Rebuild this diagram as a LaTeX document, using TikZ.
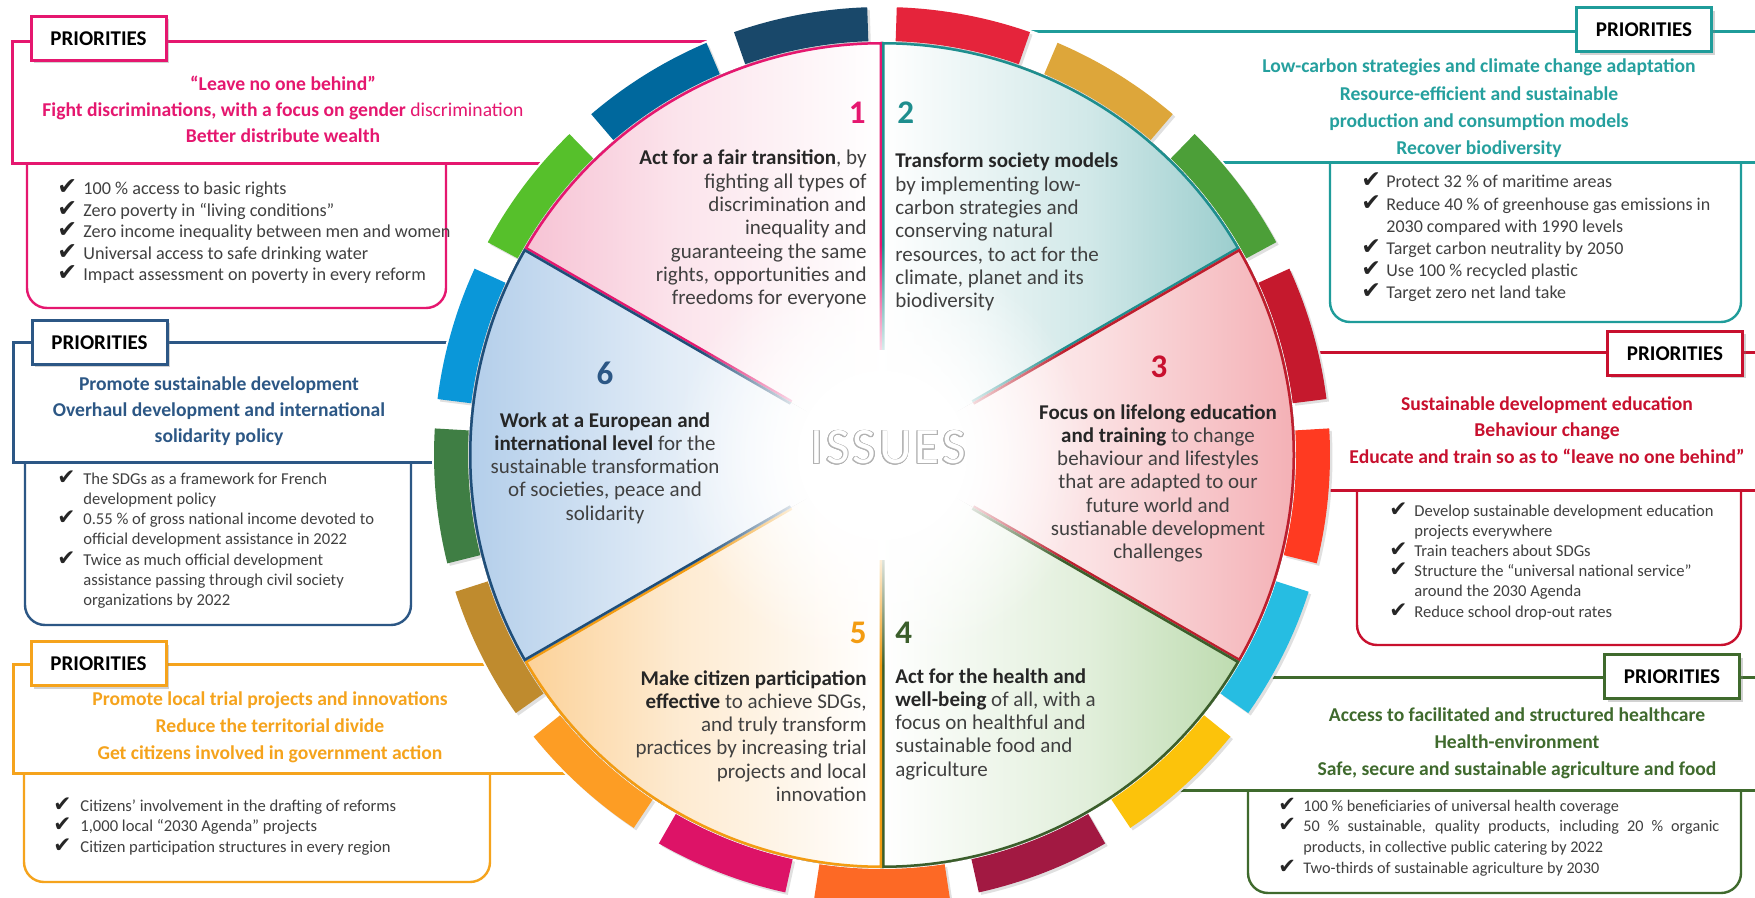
\documentclass[tikz,border=0pt]{standalone}
\usepackage{fontspec}
\setmainfont{Carlito}
\newfontfamily\dejavu{DejaVu Sans}
\usepackage[copies]{contour}
\usetikzlibrary{shadows,fadings}
\contourlength{0.45pt}
\definecolor{cPink}{HTML}{E5176F}
\definecolor{cTeal}{HTML}{1F9C9A}
\definecolor{cTealT}{HTML}{25A09E}
\definecolor{cRed}{HTML}{C8102E}
\definecolor{cGreen}{HTML}{3F6A2D}
\definecolor{cOrange}{HTML}{F5A31C}
\definecolor{cBlue}{HTML}{2C5785}
\definecolor{lBlue}{HTML}{1F4E79}
\definecolor{lTeal}{HTML}{1E8E8E}
\definecolor{lRed}{HTML}{BE1E2D}
\definecolor{lGreen}{HTML}{3B5E2B}
\definecolor{lOrange}{HTML}{F39C12}
\definecolor{rim1}{HTML}{F5B6CB}
\definecolor{rim2}{HTML}{86C3C3}
\definecolor{rim3}{HTML}{F4B0B5}
\definecolor{rim4}{HTML}{B0D49F}
\definecolor{rim5}{HTML}{FBC883}
\definecolor{rim6}{HTML}{B3CEEA}
\definecolor{txtgray}{HTML}{404040}
\definecolor{txtdark}{HTML}{262626}
\definecolor{sdg1}{HTML}{E5243B}
\definecolor{sdg2}{HTML}{DDA63A}
\definecolor{sdg3}{HTML}{4C9F38}
\definecolor{sdg4}{HTML}{C5192D}
\definecolor{sdg5}{HTML}{FF3A21}
\definecolor{sdg6}{HTML}{26BDE2}
\definecolor{sdg7}{HTML}{FCC30B}
\definecolor{sdg8}{HTML}{A21942}
\definecolor{sdg9}{HTML}{FD6925}
\definecolor{sdg10}{HTML}{DD1367}
\definecolor{sdg11}{HTML}{FD9D24}
\definecolor{sdg12}{HTML}{BF8B2E}
\definecolor{sdg13}{HTML}{3F7E44}
\definecolor{sdg14}{HTML}{0A97D9}
\definecolor{sdg15}{HTML}{56C02B}
\definecolor{sdg16}{HTML}{00689D}
\definecolor{sdg17}{HTML}{19486A}
\pgfdeclareradialshading{fadeshade}{\pgfpointorigin}{color(0bp)=(white); color(10bp)=(white); color(25bp)=(black); color(50bp)=(black)}
\pgfdeclarefading{centerfade}{\pgfuseshading{fadeshade}}
\newlength\ckw
\setlength\ckw{13pt}
\newcommand\ck{\makebox[\ckw][l]{\scalebox{1.3}{\dejavu\color{txtdark}✔}}}
\newcommand\B[1]{{\bfseries\color{txtdark}#1}}
\newcommand\secL[4]{\begin{scope}
 \clip (0,0) -- (#1:413) arc[start angle=#1,end angle=#2,radius=413] -- cycle;
 \fill[left color=#3, right color=white, middle color=#3!38!white] (-414,-414) rectangle (0,414);
 \draw[line width=2.5pt,#4] (#1:105) -- (#1:413) arc[start angle=#1,end angle=#2,radius=413] -- (#2:105);
 \end{scope}}
\newcommand\secR[4]{\begin{scope}
 \clip (0,0) -- (#1:413) arc[start angle=#1,end angle=#2,radius=413] -- cycle;
 \fill[left color=white, right color=#3, middle color=#3!38!white] (0,-414) rectangle (414,414);
 \draw[line width=2.5pt,#4] (#1:105) -- (#1:413) arc[start angle=#1,end angle=#2,radius=413] -- (#2:105);
 \end{scope}}
\tikzset{
 frame/.style={line width=1.5pt},
 listbox/.style={line width=1.2pt, rounded corners=10pt},
 tab/.style={draw, line width=1.5pt, fill=white, minimum width=67.5pt, minimum height=22pt, inner sep=0pt,
   font=\fontsize{10.5}{12}\selectfont\bfseries, text=black,
   drop shadow={shadow xshift=1.5pt, shadow yshift=-1.5pt, opacity=0.35}},
 hdr/.style={inner sep=0pt, anchor=base, font=\bfseries},
 lst/.style={inner sep=0pt, anchor=base west, text=txtgray},
 stxt/.style={inner sep=0pt, text=txtgray, font=\fontsize{10.5}{11.65}\selectfont},
 num/.style={inner sep=0pt, font=\fontsize{16.5}{16.5}\selectfont\bfseries}
}
\begin{document}
\begin{tikzpicture}[x=0.5pt,y=-0.5pt]
\useasboundingbox (0,0) rectangle (1755,898);
\fill[white] (0,0) rectangle (1755,898);
% priority frames
\draw[frame,cPink] (882,42) -- (12.5,42) -- (12.5,164) -- (882,164);
\draw[frame,cTeal] (882,32) -- (1770,32) (882,163) -- (1770,163);
\draw[frame,cRed] (1000,353) -- (1770,353) (1000,490) -- (1770,490);
\draw[frame,cGreen] (1000,677) -- (1770,677) (1000,790) -- (1770,790);
\draw[frame,cOrange] (882,664) -- (13,664) -- (13,773) -- (882,773);
\draw[frame,cBlue] (882,343) -- (13,343) -- (13,462) -- (882,462);
% list boxes
\draw[listbox,cPink] (27,164) -- (27,308) -- (446,308) -- (446,164);
\draw[listbox,cTeal] (1330,163) -- (1330,322) -- (1741,322) -- (1741,163);
\draw[listbox,cRed] (1357,490) -- (1357,645) -- (1741,645) -- (1741,490);
\draw[listbox,cGreen] (1248,790) -- (1248,893) -- (1741,893) -- (1741,790);
\draw[listbox,cOrange] (24,773) -- (24,882) -- (490,882) -- (490,773);
\draw[listbox,cBlue] (25,462) -- (25,625) -- (411,625) -- (411,462);
% wheel
\begin{scope}[shift={(882,455)}]
\fill[white] (0,0) circle (450);
\foreach \k in {1,...,17}{
 \pgfmathsetmacro\ac{21.176*(\k-1)-79.41}
 \pgfmathsetmacro\aa{\ac-8.7}
 \pgfmathsetmacro\ab{\ac+8.7}
 \fill[black, opacity=0.12, shift={(2.5,2.5)}] (\aa:414) arc[start angle=\aa,end angle=\ab,radius=414] -- (\ab:448) arc[start angle=\ab,end angle=\aa,radius=448] -- cycle;
 \fill[sdg\k] (\aa:414) arc[start angle=\aa,end angle=\ab,radius=414] -- (\ab:448) arc[start angle=\ab,end angle=\aa,radius=448] -- cycle;
}
\secL{-90}{-150}{rim1}{cPink}
\secR{-30}{-90}{rim2}{lTeal}
\secR{30}{-30}{rim3}{lRed}
\secR{90}{30}{rim4}{lGreen}
\secL{150}{90}{rim5}{lOrange}
\secL{-150}{-210}{rim6}{lBlue}
\fill[white, path fading=centerfade] (0,0) circle (210);
\end{scope}
% issues label
\node[inner sep=0pt, font=\fontsize{25.5}{26}\selectfont\addfontfeature{LetterSpace=6}] (issues) at (888,448) {\color{white}\contour{black!30}{ISSUES}};
% numbers
\node[num, anchor=base east, text=cPink] (n1) at (866,124) {1};
\node[num, anchor=base west, text=lTeal] (n2) at (897,124) {2};
\node[num, anchor=base, text=cRed] (n3) at (1159,378) {3};
\node[num, anchor=base west, text=lGreen] (n4) at (895,643) {4};
\node[num, anchor=base east, text=lOrange] (n5) at (867,643) {5};
\node[num, anchor=base, text=cBlue] (n6) at (605,385) {6};
% sector texts
\node[stxt, anchor=base east] (s1) at (867,165) {\begin{tabular}[t]{@{}r@{}}\B{Act for a fair transition}, by\\ fighting all types of\\ discrimination and\\ inequality and\\ guaranteeing the same\\ rights, opportunities and\\ freedoms for everyone\end{tabular}};
\node[stxt, anchor=base west] (s2) at (895,168) {\begin{tabular}[t]{@{}l@{}}\B{Transform society models}\\ by implementing low-\\ carbon strategies and\\ conserving natural\\ resources, to act for the\\ climate, planet and its\\ biodiversity\end{tabular}};
\node[stxt, anchor=base] (s3) at (1158,419) {\begin{tabular}[t]{@{}c@{}}\B{Focus on lifelong education}\\ \B{and training} to change\\ behaviour and lifestyles\\ that are adapted to our\\ future world and\\ sustianable development\\ challenges\end{tabular}};
\node[stxt, anchor=base west] (s4) at (895,683) {\begin{tabular}[t]{@{}l@{}}\B{Act for the health and}\\ \B{well-being} of all, with a\\ focus on healthful and\\ sustainable food and\\ agriculture\end{tabular}};
\node[stxt, anchor=base east] (s5) at (867,685) {\begin{tabular}[t]{@{}r@{}}\B{Make citizen participation}\\ \B{effective} to achieve SDGs,\\ and truly transform\\ practices by increasing trial\\ projects and local\\ innovation\end{tabular}};
\node[stxt, anchor=base] (s6) at (605,427) {\begin{tabular}[t]{@{}c@{}}\B{Work at a European and}\\ \B{international level} for the\\ sustainable transformation\\ of societies, peace and\\ solidarity\end{tabular}};
% tabs
\node[tab, draw=cPink] (t1) at (98.5,38.5) {PRIORITIES};
\node[tab, draw=cTeal] (t2) at (1644,30) {PRIORITIES};
\node[tab, draw=cRed] (t3) at (1675,353.5) {PRIORITIES};
\node[tab, draw=cGreen] (t4) at (1672,676.5) {PRIORITIES};
\node[tab, draw=cOrange] (t5) at (98.5,663.5) {PRIORITIES};
\node[tab, draw=cBlue] (t6) at (99.5,342.5) {PRIORITIES};
% headers
\node[hdr, text=cPink] (h1) at (283,91) {\fontsize{9.8}{13}\selectfont\begin{tabular}[t]{@{}c@{}}“Leave no one behind”\\ Fight discriminations, with a focus on gender {\mdseries discrimination}\\ Better distribute wealth\end{tabular}};
\node[hdr, text=cTealT] (h2) at (1479,73) {\fontsize{9.8}{13.65}\selectfont\begin{tabular}[t]{@{}c@{}}Low-carbon strategies and climate change adaptation\\ Resource-efficient and sustainable\\ production and consumption models\\ Recover biodiversity\end{tabular}};
\node[hdr, text=cRed] (h3) at (1547,410) {\fontsize{9.8}{13.25}\selectfont\begin{tabular}[t]{@{}c@{}}Sustainable development education\\ Behaviour change\\ Educate and train so as to “leave no one behind”\end{tabular}};
\node[hdr, text=cGreen] (h4) at (1517,721) {\fontsize{9.8}{13.5}\selectfont\begin{tabular}[t]{@{}c@{}}Access to facilitated and structured healthcare\\ Health-environment\\ Safe, secure and sustainable agriculture and food\end{tabular}};
\node[hdr, text=cOrange] (h5) at (270,705) {\fontsize{9.8}{13.5}\selectfont\begin{tabular}[t]{@{}c@{}}Promote local trial projects and innovations\\ Reduce the territorial divide\\ Get citizens involved in government action\end{tabular}};
\node[hdr, text=cBlue] (h6) at (219,391) {\fontsize{9.8}{12.75}\selectfont\begin{tabular}[t]{@{}c@{}}Promote sustainable development\\ Overhaul development and international\\ solidarity policy\end{tabular}};
% lists
\node[lst] (l1) at (57,195) {\fontsize{9.1}{10.75}\selectfont\begin{tabular}[t]{@{}l@{}l@{}}\ck & 100~\% access to basic rights\\ \ck & Zero poverty in “living conditions”\\ \ck & Zero income inequality between men and women\\ \ck & Universal access to safe drinking water\\ \ck & Impact assessment on poverty in every reform\end{tabular}};
\node[lst] (l2) at (1361,188) {\fontsize{9}{11.1}\selectfont\setlength\ckw{12.5pt}\begin{tabular}[t]{@{}l@{}l@{}}\ck & Protect 32~\% of maritime areas\\ \ck & Reduce 40~\% of greenhouse gas emissions in\\ & 2030 compared with 1990 levels\\ \ck & Target carbon neutrality by 2050\\ \ck & Use 100~\% recycled plastic\\ \ck & Target zero net land take\end{tabular}};
\node[lst] (l3) at (1389,516) {\fontsize{8.3}{10.1}\selectfont\setlength\ckw{12.5pt}\begin{tabular}[t]{@{}l@{}l@{}}\ck & Develop sustainable development education\\ & projects everywhere\\ \ck & Train teachers about SDGs\\ \ck & Structure the “universal national service”\\ & around the 2030 Agenda\\ \ck & Reduce school drop-out rates\end{tabular}};
\node[lst] (l4) at (1278,811) {\fontsize{8.1}{10.35}\selectfont\setlength\ckw{12.5pt}\begin{tabular}[t]{@{}l@{}l@{}}\ck & 100~\% beneficiaries of universal health coverage\\ \ck & \makebox[208pt][s]{50~\% sustainable, quality products, including 20~\% organic}\\ & products, in collective public catering by 2022\\ \ck & Two-thirds of sustainable agriculture by 2030\end{tabular}};
\node[lst] (l5) at (53,811) {\fontsize{8.3}{10.25}\selectfont\setlength\ckw{13.5pt}\begin{tabular}[t]{@{}l@{}l@{}}\ck & Citizens’ involvement in the drafting of reforms\\ \ck & 1,000 local “2030 Agenda” projects\\ \ck & Citizen participation structures in every region\end{tabular}};
\node[lst] (l6) at (57,484) {\fontsize{8.3}{10.15}\selectfont\begin{tabular}[t]{@{}l@{}l@{}}\ck & The SDGs as a framework for French\\ & development policy\\ \ck & 0.55~\% of gross national income devoted to\\ & official development assistance in 2022\\ \ck & Twice as much official development\\ & assistance passing through civil society\\ & organizations by 2022\end{tabular}};
\end{tikzpicture}
\end{document}
